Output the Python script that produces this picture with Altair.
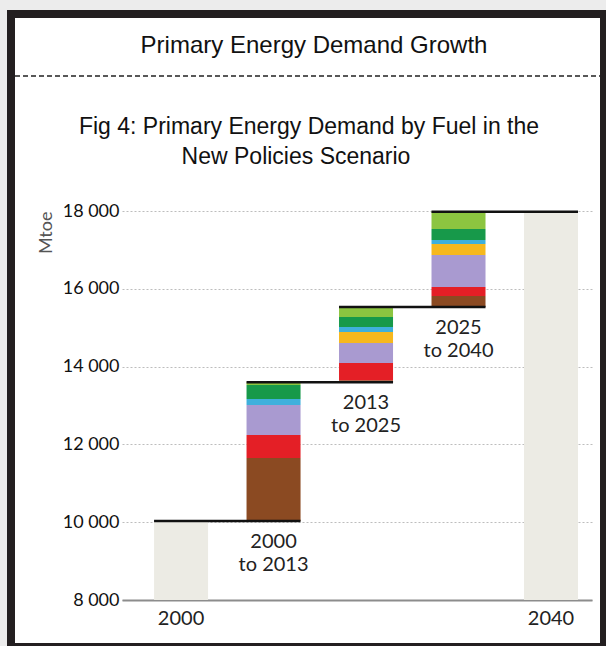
import altair as alt
import pandas as pd

# ---------------- data ----------------
categories = ["2000", "2000 to 2013", "2013 to 2025", "2025 to 2040", "2040"]
fuels = ["Coal", "Oil", "Gas", "Nuclear", "Hydro", "Bioenergy", "Other renewables"]
fuel_colors = ["#8b4a22", "#e41f26", "#a99ad0", "#f6b81e", "#3fb0dc", "#17994a", "#8cc540"]

demand_2000 = 10030  # Mtoe
growth_2000_2013 = [1620, 592, 771, 0, 154, 360, 73]
growth_2013_2025 = [50, 443, 514, 282, 129, 257, 255]
growth_2025_2040 = [285, 231, 823, 283, 102, 283, 443]
growth_labels = ["2000\nto 2013", "2013\nto 2025", "2025\nto 2040"]

y_ticks = [8000, 10000, 12000, 14000, 16000, 18000]
y_min, y_max = 8000, 18000

# ---------------- tables ----------------
growths = [growth_2000_2013, growth_2013_2025, growth_2025_2040]
seg_rows, rule_rows, ann_rows = [], [], []
level = demand_2000
levels = [demand_2000]
for i, g in enumerate(growths):
    cat = categories[i + 1]
    start = level
    rule_rows.append({"level": level, "from": categories[i], "to": cat})
    ann_rows.append({"cat": cat, "base": start, "label": growth_labels[i]})
    for f, v in zip(fuels, g):
        if v > 0:
            seg_rows.append({"cat": cat, "fuel": f, "y0": level, "y1": level + v})
        level += v
    levels.append(level)
rule_rows.append({"level": level, "from": categories[3], "to": categories[4]})

seg_df = pd.DataFrame(seg_rows)
rule_df = pd.DataFrame(rule_rows)
ann_df = pd.DataFrame(ann_rows)
tot_df = pd.DataFrame({"cat": [categories[0], categories[4]],
                       "total": [levels[0], levels[-1]]})

# ---------------- layout ----------------
W, H = 470, 389
PAD = {"left": 122, "top": 211, "right": 14, "bottom": 46}
OX, OY = PAD["left"], PAD["top"]
HEAD_FONT = "Liberation Sans"

xscale = alt.Scale(domain=categories, paddingInner=0.416, paddingOuter=0.249, align=0.696)
yscale = alt.Scale(domain=[y_min, y_max], zero=False, nice=False)

x_axis = alt.Axis(title=None, labelExpr="length(datum.label) == 4 ? datum.label : ''",
                  labelAngle=0, ticks=False, domainColor="#8c8c8c", domainWidth=2,
                  labelFont="Lato", labelFontSize=20, labelColor="#222222", labelPadding=8,
                  grid=False)
y_axis = alt.Axis(title="Mtoe", values=y_ticks,
                  labelExpr="replace(format(datum.value, ','), ',', ' ')",
                  labelFont="Lato", labelFontSize=18, labelColor="#111111", labelPadding=3,
                  ticks=False, domain=False, grid=True, gridColor="#bdbdbd",
                  gridDash=[2, 2], gridWidth=1,
                  titleFont="Lato", titleFontSize=18, titleFontWeight="normal",
                  titleColor="#555555", titleAnchor="end", titlePadding=7)

one = alt.Data(values=[{}])

def strip(x0, x1, y0, y1, color):
    return alt.Chart(one).mark_rect(color=color).encode(
        x=alt.value(x0 - OX), x2=alt.value(x1 - OX),
        y=alt.value(y0 - OY), y2=alt.value(y1 - OY))

frame = [
    strip(0, 606, 0, 10, "#ececec"),
    strip(0, 7, 0, 646, "#ececec"),
    strip(7, 606, 10, 18, "#231f20"),
    strip(7, 15, 10, 646, "#231f20"),
    strip(600, 606, 10, 646, "#231f20"),
    strip(7, 606, 643, 646, "#231f20"),
]

title = alt.Chart(one).mark_text(
    text="Primary Energy Demand Growth", font=HEAD_FONT, fontSize=24,
    color="#111111", align="center", baseline="alphabetic").encode(
    x=alt.value(314 - OX), y=alt.value(53 - OY))

dash = alt.Chart(one).mark_rule(color="#222222", strokeWidth=1.5, strokeDash=[5, 3]).encode(
    x=alt.value(15 - OX), x2=alt.value(600 - OX), y=alt.value(76 - OY))

sub1 = alt.Chart(one).mark_text(
    text="Fig 4: Primary Energy Demand by Fuel in the", font=HEAD_FONT,
    fontSize=23, color="#111111", align="center", baseline="alphabetic").encode(
    x=alt.value(309 - OX), y=alt.value(134 - OY))
sub2 = alt.Chart(one).mark_text(
    text="New Policies Scenario", font=HEAD_FONT,
    fontSize=23, color="#111111", align="center", baseline="alphabetic").encode(
    x=alt.value(296 - OX), y=alt.value(164 - OY))

totals = alt.Chart(tot_df).mark_bar(color="#ecebe4").encode(
    x=alt.X("cat:N", scale=xscale, axis=x_axis, sort=categories),
    y=alt.Y("total:Q", scale=yscale, axis=y_axis),
    y2=alt.Y2(datum=y_min),
)

segs = alt.Chart(seg_df).mark_bar().encode(
    x=alt.X("cat:N", scale=xscale, sort=categories),
    y=alt.Y("y0:Q", scale=yscale),
    y2="y1:Q",
    color=alt.Color("fuel:N", scale=alt.Scale(domain=fuels, range=fuel_colors), legend=None),
)

rules = alt.Chart(rule_df).mark_rule(color="#111111", strokeWidth=2.5).encode(
    x=alt.X("from:N", scale=xscale, bandPosition=0, sort=categories),
    x2=alt.X2("to:N", bandPosition=1),
    y=alt.Y("level:Q", scale=yscale),
)

ann = alt.Chart(ann_df).mark_text(
    font="Lato", fontSize=20, color="#222222", align="center", baseline="top",
    dy=11, lineBreak="\n", lineHeight=23).encode(
    x=alt.X("cat:N", scale=xscale, sort=categories),
    y=alt.Y("base:Q", scale=yscale),
    text="label:N",
)

chart = alt.layer(*frame, title, dash, sub1, sub2, totals, segs, rules, ann).properties(
    width=W, height=H,
    padding=PAD,
    autosize=alt.AutoSizeParams(type="none"),
    background="white",
).configure_view(stroke=None)

chart.save("out.html", embed_options={"renderer": "svg", "actions": False})
